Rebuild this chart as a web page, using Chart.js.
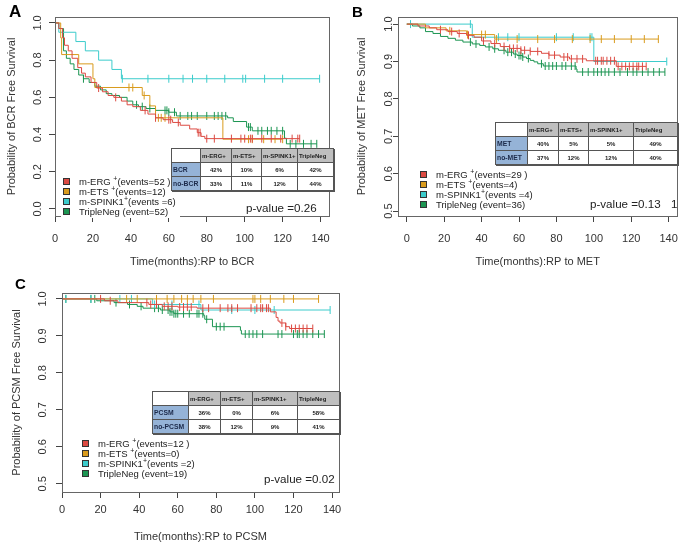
<!DOCTYPE html>
<html>
<head>
<meta charset="utf-8">
<script src="https://cdn.jsdelivr.net/npm/chart.js@4.4.0/dist/chart.umd.min.js"></script>
<style>
body{margin:0;background:#fff;width:688px;height:548px;position:relative;overflow:hidden;font-family:"Liberation Sans",Arial,sans-serif;}
canvas{position:absolute;}
.panel{position:absolute;font-weight:bold;color:#000;}
.leg{position:absolute;font-size:9.5px;line-height:10px;color:#222;background:#fff;padding:1px 4px 1px 2px;}
.leg div{white-space:nowrap;}
.leg sup{font-size:7px;line-height:0;}
.sq{display:inline-block;width:5px;height:5px;border:1px solid #333;margin-right:9px;vertical-align:0px;}
.pv{position:absolute;font-size:11.6px;color:#222;white-space:nowrap;}
table.t{position:absolute;border-collapse:collapse;table-layout:fixed;font-weight:bold;font-size:6px;color:#222;box-shadow:1px 1px 0 #555;background:#fff;}
table.t td{border:1px solid #555;padding:0 1px;overflow:hidden;white-space:nowrap;text-align:center;}
table.t td.h{background:#bfbfbf;text-align:left;}
table.t td.e{background:#fff;}
table.t td.r{background:#95b3d7;text-align:left;font-size:6.8px;color:#1c2a4a;}
</style>
</head>
<body>
<canvas id="chartA" width="340" height="270" style="left:0;top:0"></canvas>
<canvas id="chartB" width="348" height="270" style="left:340px;top:0"></canvas>
<canvas id="chartC" width="360" height="278" style="left:0;top:270px"></canvas>
<div class="panel" style="left:9px;top:2px;font-size:17px">A</div>
<div class="panel" style="left:352px;top:3px;font-size:15px">B</div>
<div class="panel" style="left:15px;top:275px;font-size:15px">C</div>
<script>
// Du lieu chung
const xTicks = [0, 20, 40, 60, 80, 100, 120, 140];
const yTicksA = [0, 0.2, 0.4, 0.6, 0.8, 1.0];
const yTicksBC = [0.5, 0.6, 0.7, 0.8, 0.9, 1.0];
const colors = ['#dc4a42', '#d99b1d', '#3ccccc', '#1c9552'];
const tableCols = ['m-ERG+', 'm-ETS+', 'm-SPINK1+', 'TripleNeg'];

// Panel A: BCR
const aErgT = [0, 2, 4, 5, 7, 9, 12, 14, 16, 19, 22, 25, 28, 31, 35, 38, 41, 45, 49, 53, 57, 62, 66, 71, 75, 77, 79];
const aErgS = [1, 0.97, 0.92, 0.88, 0.85, 0.81, 0.76, 0.73, 0.71, 0.68, 0.65, 0.63, 0.61, 0.60, 0.58, 0.56, 0.55, 0.53, 0.51, 0.49, 0.48, 0.465, 0.45, 0.43, 0.41, 0.39, 0.378];
const aErgC = [23, 32, 47.5, 53, 60, 61, 65, 75.5, 76.5, 80, 84, 93, 98, 100, 103, 104, 109, 114, 119, 125, 128, 129];
const aEtsT = [0, 3, 3.5, 12.5, 20, 21, 46, 50, 53, 88.5];
const aEtsS = [1, 0.92, 0.83, 0.78, 0.70, 0.653, 0.61, 0.554, 0.49, 0.375];
const aEtsC = [39, 41, 47, 54.5, 56, 58, 102, 104, 110, 116, 120];
const aSpkT = [0, 2, 11, 16, 23, 30, 35];
const aSpkS = [1, 0.95, 0.90, 0.85, 0.80, 0.75, 0.70];
const aSpkC = [35.5, 49, 60, 67.5, 72.5, 80, 89.5, 99, 100.5, 110.5, 120, 139.5];
const aTnT = [0, 2, 4.5, 6, 8, 10, 12.5, 15, 18, 21, 24, 27, 30, 34, 38, 41, 44, 48, 53, 60, 64, 91, 94, 101, 104, 121, 122];
const aTnS = [1, 0.97, 0.85, 0.81, 0.78, 0.75, 0.72, 0.70, 0.68, 0.66, 0.64, 0.62, 0.61, 0.60, 0.58, 0.56, 0.55, 0.54, 0.53, 0.52, 0.50, 0.49, 0.47, 0.44, 0.42, 0.38, 0.35];
const aTnC = [15, 43, 46, 50, 58, 59, 60, 63, 66, 70, 72, 75, 80, 84, 86, 88, 90, 102, 103, 107, 109, 112, 114, 117, 120, 124, 127, 131, 135, 138];
const aLegend = ['m-ERG <sup>+</sup>(events=52 )', 'm-ETS <sup>+</sup>(events=12)', 'm-SPINK1<sup>+</sup>(events =6)', 'TripleNeg (event=52)'];
const aRows = ['BCR', 'no-BCR'];
const aVals = [['42%', '10%', '6%', '42%'], ['33%', '11%', '12%', '44%']];

// Panel B: MET
const bErgT = [0, 6, 12, 16, 22, 27, 32, 36, 40, 45, 50, 55, 61, 66, 72, 76, 82, 87, 96, 112];
const bErgS = [1, 0.995, 0.99, 0.985, 0.98, 0.975, 0.97, 0.965, 0.955, 0.948, 0.94, 0.935, 0.93, 0.927, 0.922, 0.917, 0.912, 0.907, 0.902, 0.887];
const bErgC = [18, 24, 28, 33, 41, 47, 52, 55, 57, 59, 61, 63, 66, 70, 76, 79, 84, 86, 88, 91, 94, 101, 102, 104, 105, 107, 109, 111, 113, 115, 117, 119, 121, 123, 124, 126, 128];
const bEtsT = [0, 10, 21, 32, 47];
const bEtsS = [1, 0.99, 0.982, 0.972, 0.96];
const bEtsC = [23, 32.5, 40, 42, 48, 59, 70, 79, 88.5, 98, 104, 111, 120, 127, 134.5];
const bSpkT = [0, 35, 100];
const bSpkS = [1, 0.965, 0.90];
const bSpkC = [2, 34, 49, 54, 60, 80, 89, 98, 99, 139];
const bTnT = [0, 3, 7, 10, 14, 18, 22, 26, 30, 35, 39, 42, 46, 49, 53, 57, 59, 62, 64, 66, 68, 70, 73, 90.5, 91];
const bTnS = [1, 0.995, 0.99, 0.98, 0.975, 0.967, 0.962, 0.957, 0.952, 0.947, 0.943, 0.939, 0.934, 0.93, 0.925, 0.92, 0.916, 0.912, 0.908, 0.903, 0.899, 0.894, 0.888, 0.88, 0.872];
const bTnC = [34, 37, 44, 47, 52, 54, 56, 58, 60, 61, 62, 65, 72, 74, 76, 78, 80, 83, 85, 88, 90, 94, 97, 100, 102, 104, 106, 108, 111, 114, 118, 121, 123, 126, 129, 132, 135, 138];
const bLegend = ['m-ERG <sup>+</sup>(events=29 )', 'm-ETS <sup>+</sup>(events=4)', 'm-SPINK1<sup>+</sup>(events =4)', 'TripleNeg (event=36)'];
const bRows = ['MET', 'no-MET'];
const bVals = [['40%', '5%', '5%', '49%'], ['37%', '12%', '12%', '40%']];

// Panel C: PCSM
const cErgT = [0, 22, 29, 45, 52, 60, 70, 108, 111, 112, 113, 116, 118];
const cErgS = [1, 0.995, 0.99, 0.985, 0.98, 0.978, 0.975, 0.965, 0.95, 0.94, 0.935, 0.925, 0.92];
const cErgC = [20, 25, 44, 46, 49, 53, 55, 57, 61, 63, 65, 67, 73, 76, 82, 86, 88, 91, 98, 101, 103, 104, 106, 107, 114, 116, 119, 121, 123, 125, 127, 130];
const cEtsT = [0];
const cEtsS = [1];
const cEtsC = [33.5, 39, 49, 54.5, 58, 62, 65, 68, 72, 78.5, 99, 100, 103, 108, 115, 120, 133];
const cSpkT = [0, 47, 72];
const cSpkS = [1, 0.985, 0.97];
const cSpkC = [2, 15, 30, 36, 48, 57, 71, 88, 100, 110, 139];
const cTnT = [0, 18, 27, 34, 39, 42, 51, 56, 58, 73.5, 74, 78, 92.5, 93];
const cTnS = [1, 0.995, 0.99, 0.985, 0.98, 0.975, 0.97, 0.965, 0.96, 0.955, 0.945, 0.925, 0.915, 0.905];
const cTnC = [2, 15, 17, 28, 35, 41, 48, 50, 52, 55, 56, 57, 58, 59, 60, 63, 66, 70, 71, 73, 75, 80, 82, 84, 95, 97, 99, 101, 104, 112, 114, 120, 122, 123, 125, 127, 130, 133, 136];
const cLegend = ['m-ERG <sup>+</sup>(events=12 )', 'm-ETS <sup>+</sup>(events=0)', 'm-SPINK1<sup>+</sup>(events =2)', 'TripleNeg (event=19)'];
const cRows = ['PCSM', 'no-PCSM'];
const cVals = [['36%', '0%', '6%', '58%'], ['38%', '12%', '9%', '41%']];

// Gia tri song con tai thoi diem t
function survAt(times, surv, t) {
    let s = surv[0];
    for (let i = 0; i < times.length; i++) {
        if (times[i] <= t) s = surv[i];
    }
    return s;
}

// Duong Kaplan-Meier + cac dau kiem duyet
function kmSeries(times, surv, cens, color) {
    const pts = times.map((t, i) => ({x: t, y: surv[i]}));
    const end = Math.max(times[times.length - 1], ...cens);
    pts.push({x: end, y: surv[surv.length - 1]});
    return [
        {data: pts, showLine: true, stepped: true, borderColor: color, borderWidth: 1, pointRadius: 0, fill: false},
        {data: cens.map(c => ({x: c, y: survAt(times, surv, c)})), showLine: false, pointStyle: 'line',
         rotation: 90, pointRadius: 4, borderColor: color, borderWidth: 1}
    ];
}

// Khung bao quanh vung ve
const boxPlugin = {
    id: 'box',
    afterDraw(chart) {
        const a = chart.chartArea, ctx = chart.ctx;
        ctx.save();
        ctx.strokeStyle = '#666';
        ctx.lineWidth = 1;
        ctx.strokeRect(Math.round(a.left) + 0.5, Math.round(a.top) + 0.5, Math.round(a.right - a.left), Math.round(a.bottom - a.top));
        ctx.restore();
    }
};

function makeChart(id, o) {
    const ctx = document.getElementById(id).getContext('2d');
    return new Chart(ctx, {
        type: 'scatter',
        data: {datasets: o.datasets},
        plugins: [boxPlugin],
        options: {
            responsive: false,
            animation: false,
            layout: {padding: {top: o.top, right: o.right, left: 0, bottom: 0}},
            plugins: {legend: {display: false}, tooltip: {enabled: false}},
            scales: {
                x: {
                    type: 'linear', min: o.xMin, max: o.xMax,
                    afterBuildTicks: s => { s.ticks = xTicks.map(v => ({value: v})); },
                    afterFit: s => { s.height = o.xH; },
                    grid: {drawOnChartArea: false, tickLength: 6, color: '#444'},
                    border: {display: false},
                    ticks: {color: '#333', font: {size: 11, family: 'Liberation Sans'}, padding: o.xPad, maxRotation: 0},
                    title: {display: true, text: o.xTitle, color: '#333', font: {size: 11, family: 'Liberation Sans'}, padding: {top: 0, bottom: o.xTitlePad}}
                },
                y: {
                    type: 'linear', min: o.yMin, max: o.yMax,
                    afterBuildTicks: s => { s.ticks = o.yTicks.map(v => ({value: v})); },
                    afterFit: s => { s.width = o.yW; },
                    grid: {drawOnChartArea: false, tickLength: o.yTick, color: '#444'},
                    border: {display: false},
                    ticks: {color: '#333', font: {size: 11, family: 'Liberation Sans'}, padding: o.yPad, minRotation: 90, maxRotation: 90,
                            crossAlign: 'center', callback: v => Number(v).toFixed(1)},
                    title: {display: true, text: o.yTitle, color: '#333', font: {size: 11, family: 'Liberation Sans'}, padding: {top: o.yTitlePad, bottom: 0}}
                }
            }
        }
    });
}

function buildDatasets(list) {
    let out = [];
    list.forEach((s, i) => { out = out.concat(kmSeries(s[0], s[1], s[2], colors[i])); });
    return out;
}

makeChart('chartA', {
    datasets: buildDatasets([[aErgT, aErgS, aErgC], [aEtsT, aEtsS, aEtsC], [aSpkT, aSpkS, aSpkC], [aTnT, aTnS, aTnC]]),
    top: 17, right: 8, xH: 54, yW: 55, xMin: 0, xMax: 144.7, yMin: -0.038, yMax: 1.032, yTicks: yTicksA,
    xPad: 10, xTitlePad: 1.4, yTick: 6, yPad: 3.4, yTitlePad: 5.4,
    xTitle: 'Time(months):RP to BCR', yTitle: 'Probability of BCR Free Survival'
});
makeChart('chartB', {
    datasets: buildDatasets([[bErgT, bErgS, bErgC], [bEtsT, bEtsS, bEtsC], [bSpkT, bSpkS, bSpkC], [bTnT, bTnS, bTnC]]),
    top: 17, right: 6, xH: 54, yW: 58, xMin: -4.7, xMax: 144.7, yMin: 0.487, yMax: 1.019, yTicks: yTicksBC,
    xPad: 10, xTitlePad: 1.4, yTick: 5, yPad: -3.6, yTitlePad: 15.4,
    xTitle: 'Time(months):RP to MET', yTitle: 'Probability of MET Free Survival'
});
makeChart('chartC', {
    datasets: buildDatasets([[cErgT, cErgS, cErgC], [cEtsT, cEtsS, cEtsC], [cSpkT, cSpkS, cSpkC], [cTnT, cTnS, cTnC]]),
    top: 23, right: 21, xH: 56, yW: 62, xMin: 0, xMax: 143.6, yMin: 0.478, yMax: 1.016, yTicks: yTicksBC,
    xPad: 5.4, xTitlePad: 4.4, yTick: 6, yPad: 5.3, yTitlePad: 10.4,
    xTitle: 'Time(months):RP to PCSM', yTitle: 'Probability of PCSM Free Survival'
});

// Chu giai (legend)
function addLegend(labels, left, top) {
    const d = document.createElement('div');
    d.className = 'leg';
    d.style.left = left + 'px';
    d.style.top = top + 'px';
    d.innerHTML = labels.map((l, i) => '<div><span class="sq" style="background:' + colors[i] + '"></span>' + l + '</div>').join('');
    document.body.appendChild(d);
}
addLegend(aLegend, 61, 176);
addLegend(bLegend, 418, 169);
addLegend(cLegend, 80, 438);

// Bang ty le
function addTable(rows, vals, left, top, widths, rowH) {
    const t = document.createElement('table');
    t.className = 't';
    t.style.left = left + 'px';
    t.style.top = top + 'px';
    let html = '<colgroup>' + widths.map(w => '<col style="width:' + w + 'px">').join('') + '</colgroup>';
    html += '<tr style="height:' + rowH + 'px"><td class="e"></td>' + tableCols.map(c => '<td class="h">' + c + '</td>').join('') + '</tr>';
    rows.forEach((r, i) => {
        html += '<tr style="height:' + rowH + 'px"><td class="r">' + r + '</td>' + vals[i].map(v => '<td>' + v + '</td>').join('') + '</tr>';
    });
    t.innerHTML = html;
    t.style.width = widths.reduce((a, b) => a + b, 0) + 'px';
    document.body.appendChild(t);
}
addTable(aRows, aVals, 171, 148, [29, 31, 30, 36, 36], 14);
addTable(bRows, bVals, 495, 122, [32, 31, 30, 45, 44], 14);
addTable(cRows, cVals, 152, 391, [36, 32, 32, 45, 42], 14);

// p-value
function addText(txt, left, top) {
    const d = document.createElement('div');
    d.className = 'pv';
    d.style.left = left + 'px';
    d.style.top = top + 'px';
    d.textContent = txt;
    document.body.appendChild(d);
}
addText('p-value =0.26', 246, 201);
addText('p-value =0.13', 590, 197);
addText('1', 671, 197);
addText('p-value =0.02', 264, 472);
</script>
</body>
</html>
